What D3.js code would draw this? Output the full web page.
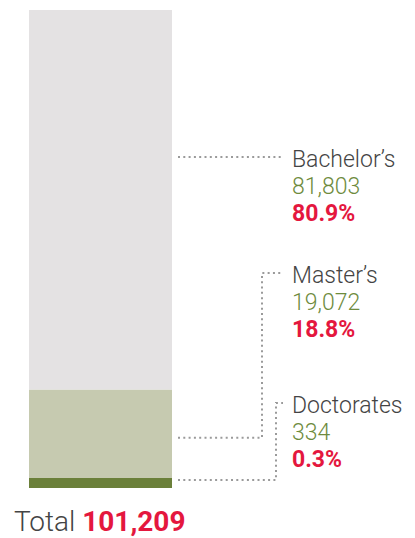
<!DOCTYPE html>
<html>
<head>
<meta charset="utf-8">
<script src="https://cdn.jsdelivr.net/npm/d3@7"></script>
<style>
  body { margin: 0; background: #fff; }
  svg text { font-family: Roboto, "Noto Sans", sans-serif; }
</style>
</head>
<body>
<div id="chart"></div>
<script>
// degrees awarded, by level
var categories = ["Bachelor\u2019s", "Master\u2019s", "Doctorates"];
var counts = [81803, 19072, 334];
var shares = [80.9, 18.8, 0.3];
var total = 101209;

var width = 415, height = 538;
var colors = ["#e4e2e3", "#c6cab0", "#6b803a"];

var svg = d3.select("#chart").append("svg")
    .attr("width", width)
    .attr("height", height);

// bar geometry
var barX = 29, barW = 143, barTop = 10, barBottom = 488;
var minH = 10; // smallest segment still visible

// stack from the bottom up: doctorates, master's, bachelor's
var order = [2, 1, 0];
var rest = d3.sum(counts) - counts[2];
var y = d3.scaleLinear().domain([0, rest]).range([barBottom - minH, barTop]);

var segs = [];
var acc = 0;
order.forEach(function(i) {
    var s;
    if (i === 2) {
        s = { i: i, y0: barBottom - minH, y1: barBottom };
    } else {
        s = { i: i, y0: y(acc + counts[i]), y1: y(acc) };
        acc += counts[i];
    }
    segs.push(s);
});

svg.append("g").selectAll("rect")
    .data(segs)
    .enter().append("rect")
    .attr("x", barX)
    .attr("width", barW)
    .attr("y", function(d) { return d.y0; })
    .attr("height", function(d) { return d.y1 - d.y0; })
    .style("fill", function(d) { return colors[d.i]; });

// labels
var textX = 292;
var labelY = [167, 283, 413];   // baseline of first line
var lineH = 27;
var elbowX = [null, 262, 276];
var fs = "23px";

var labels = svg.append("g");
categories.forEach(function(name, i) {
    var g = labels.append("g");
    g.append("text").attr("x", textX).attr("y", labelY[i])
        .style("font-size", fs).style("font-weight", 300).style("fill", "#444")
        .text(name);
    g.append("text").attr("x", textX).attr("y", labelY[i] + lineH)
        .style("font-size", fs).style("font-weight", 300).style("fill", "#6e8b3d")
        .text(d3.format(",")(counts[i]));
    g.append("text").attr("x", textX).attr("y", labelY[i] + lineH * 2)
        .style("font-size", fs).style("font-weight", 700).style("fill", "#e4173e")
        .text(shares[i].toFixed(1) + "%");
});

// dotted leader lines
var lineStart = barX + barW + 6, lineEnd = textX - 9;
var leaders = svg.append("g")
    .style("fill", "none")
    .style("stroke", "#9a9a9a")
    .style("stroke-width", 2)
    .style("stroke-dasharray", "2 3.3");

segs.forEach(function(s) {
    var i = s.i;
    var ty = labelY[i] - 10;
    var pts;
    if (elbowX[i] == null) {
        pts = [[lineStart, ty], [lineEnd, ty]];
    } else {
        var by = i === 2 ? s.y1 - 8 : (s.y0 + s.y1) / 2 + 4;
        pts = [[lineStart, by], [elbowX[i], by], [elbowX[i], ty], [lineEnd, ty]];
    }
    leaders.append("path").attr("d", d3.line()(pts));
});

// total
var tot = svg.append("text").attr("x", 14).attr("y", 531)
    .style("font-size", "28px");
tot.append("tspan").style("font-weight", 300).style("fill", "#444").text("Total ");
tot.append("tspan").style("font-weight", 700).style("fill", "#e4173e").text(d3.format(",")(total));
</script>
</body>
</html>
